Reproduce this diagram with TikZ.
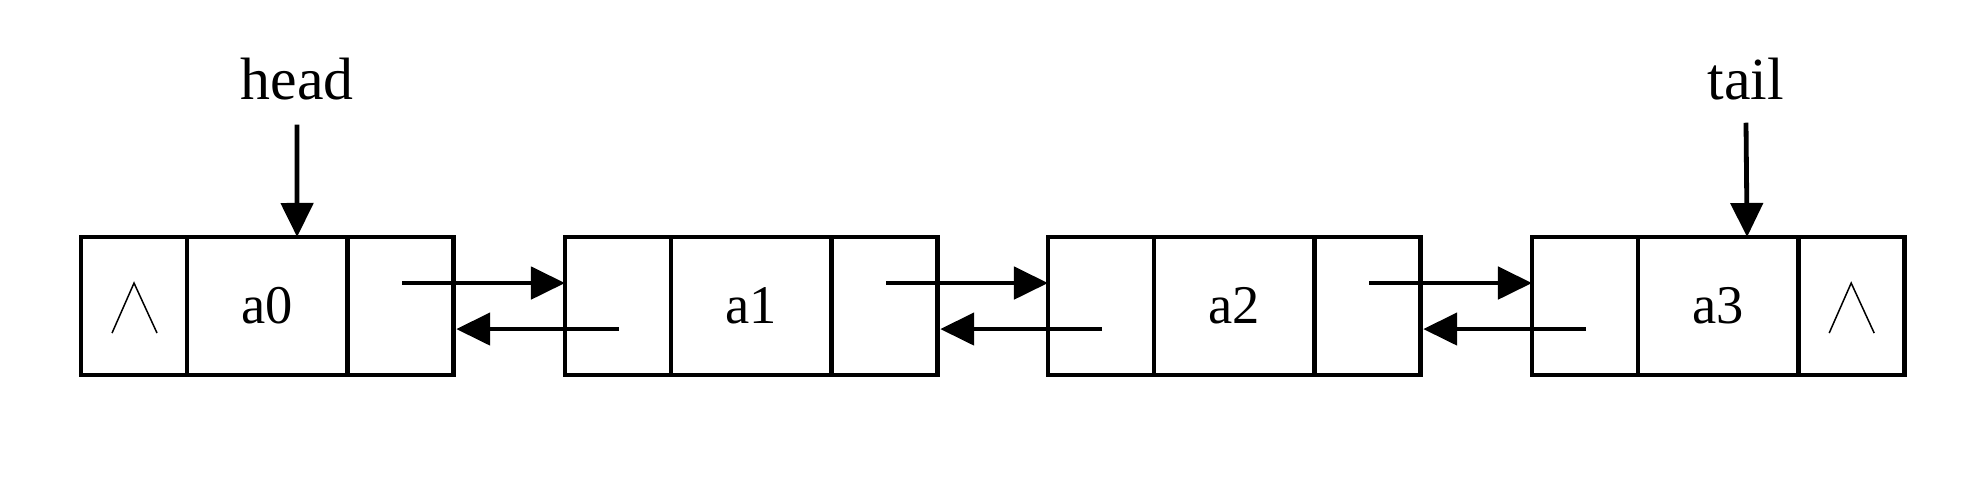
\documentclass[tikz,border=0pt]{standalone}
\usepackage{fontspec}
\setmainfont{Liberation Serif}
\usetikzlibrary{arrows.meta}
\begin{document}
\begin{tikzpicture}[x=0.01cm,y=-0.01cm,
  cell/.style={draw,line width=0.048cm,minimum height=1.38cm,inner sep=0pt,outer sep=0pt,anchor=north west},
  sidecell/.style={cell,minimum width=1.06cm},
  midcell/.style={cell,minimum width=1.60cm,font=\fontsize{15.5}{18}\selectfont},
  arr/.style={line width=0.048cm,-{Triangle[length=0.34cm,width=0.32cm]}},
  lbl/.style={font=\fontsize{17}{20}\selectfont,inner sep=0pt},
  nul/.style={line width=0.015cm}]
\useasboundingbox[fill=white] (0,0) rectangle (1981,478);
\foreach \i/\x/\t in {0/81/a0,1/565/a1,2/1048/a2,3/1532/a3}{
  \node[sidecell] (L\i) at (\x,237) {};
  \node[midcell] (M\i) at (L\i.north east) {\t};
  \node[sidecell] (R\i) at (M\i.north east) {};
}
\foreach \i/\j in {0/1,1/2,2/3}{
  \draw[arr] ([shift={(55,-23)}]R\i.west) -- ([shift={(0,-23)}]L\j.west);
  \draw[arr] ([shift={(54,23)}]L\j.west) -- ([shift={(3,23)}]R\i.east);
}
\node[lbl] (head) at (297,79) {head};
\node[lbl] (tail) at (1746,79) {tail};
\draw[arr] ([shift={(0,24)}]head.south) -- ([shift={(30,0)}]M0.north);
\draw[arr] ([shift={(0,22)}]tail.south) -- ([shift={(29,0)}]M3.north);
\draw[nul] ([shift={(-22,27)}]L0.center) -- ([shift={(0,-23)}]L0.center) -- ([shift={(23,27)}]L0.center);
\draw[nul] ([shift={(-22,27)}]R3.center) -- ([shift={(0,-23)}]R3.center) -- ([shift={(23,27)}]R3.center);
\end{tikzpicture}
\end{document}
